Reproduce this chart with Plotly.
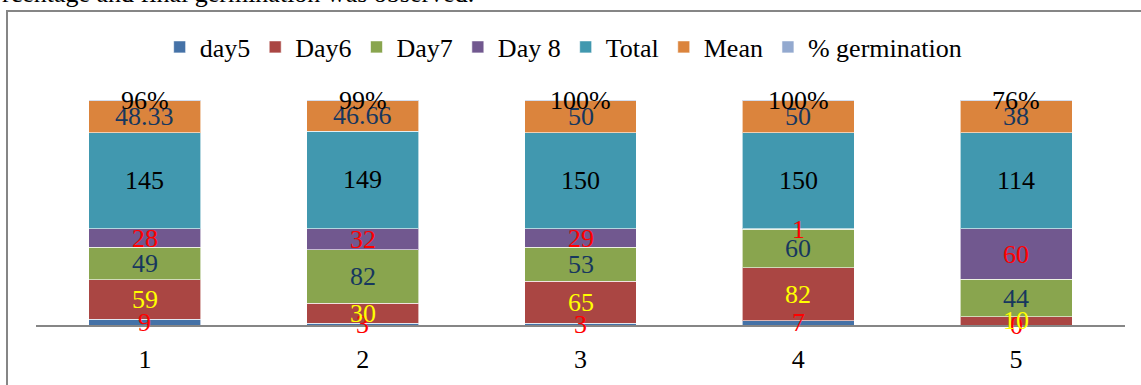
import plotly.graph_objects as go

categories = ["1", "2", "3", "4", "5"]
day5 = [9, 3, 3, 7, 0]
day6 = [59, 30, 65, 82, 10]
day7 = [49, 82, 53, 60, 44]
day8 = [28, 32, 29, 1, 60]
total = [145, 149, 150, 150, 114]
mean = [48.33, 46.66, 50, 50, 38]
germination = [0.96, 0.99, 1.00, 1.00, 0.76]
germ_labels = ["96%", "99%", "100%", "100%", "76%"]

series = [
    ("day5", day5, "#4572A7", "#FF0000", [str(v) for v in day5]),
    ("Day6", day6, "#AA4643", "#FFFF00", [str(v) for v in day6]),
    ("Day7", day7, "#89A54E", "#17375E", [str(v) for v in day7]),
    ("Day 8", day8, "#71588F", "#FF0000", [str(v) for v in day8]),
    ("Total", total, "#4198AF", "#000000", [str(v) for v in total]),
    ("Mean", mean, "#DB843D", "#17375E", [f"{v:g}" for v in mean]),
    ("% germination", germination, "#93A9CF", "#000000", germ_labels),
]

FONT = "Liberation Serif, Times New Roman, serif"
FS = 26
fig = go.Figure()
sums = [sum(s[1][i] for s in series) for i in range(len(categories))]

for name, vals, color, _, _ in series:
    fig.add_trace(go.Bar(
        x=categories, y=vals, name=name,
        marker=dict(color=color, line=dict(color="rgba(255,255,255,0.6)", width=1)),
        width=0.514,
    ))

annotations = []
cum = [0.0] * len(categories)
for name, vals, color, tcol, labels in series:
    for i, v in enumerate(vals):
        mid = (cum[i] + v / 2) / sums[i] * 100
        annotations.append(dict(
            x=i, y=mid, xref="x", yref="y", text=labels[i],
            showarrow=False, font=dict(family=FONT, size=FS, color=tcol),
            xanchor="center", yanchor="middle",
        ))
        cum[i] += v

annotations.append(dict(
    x=-36 / 1089, y=(325 - 10) / 225, xref="paper", yref="paper",
    text="rcentage and final germination was observed.", showarrow=False,
    xanchor="left", yanchor="bottom", font=dict(family=FONT, size=FS, color="#000000"),
))

fig.update_layout(
    barmode="stack", barnorm="percent",
    width=1141, height=385,
    margin=dict(l=36, r=16, t=100, b=60),
    paper_bgcolor="white", plot_bgcolor="white",
    font=dict(family=FONT, size=FS, color="#000000"),
    showlegend=True,
    legend=dict(orientation="h", xref="container", yref="container",
                x=0.494, y=1 - 47 / 385, xanchor="center", yanchor="middle",
                font=dict(family=FONT, size=FS, color="#000000"),
                traceorder="normal"),
    xaxis=dict(type="category", showline=True, linecolor="#868686", linewidth=2, ticks="",
               ticklabelstandoff=10,
               tickfont=dict(family=FONT, size=FS, color="#000000"),
               showgrid=False, zeroline=False),
    yaxis=dict(range=[0, 100], visible=False, showgrid=False),
    annotations=annotations,
    shapes=[dict(type="rect", xref="paper", yref="paper",
                 x0=(7 - 36) / 1089, x1=1.2, y0=-0.5, y1=(325 - 11) / 225,
                 line=dict(color="#868686", width=2), layer="below")],
)

fig.write_html("out.html")
